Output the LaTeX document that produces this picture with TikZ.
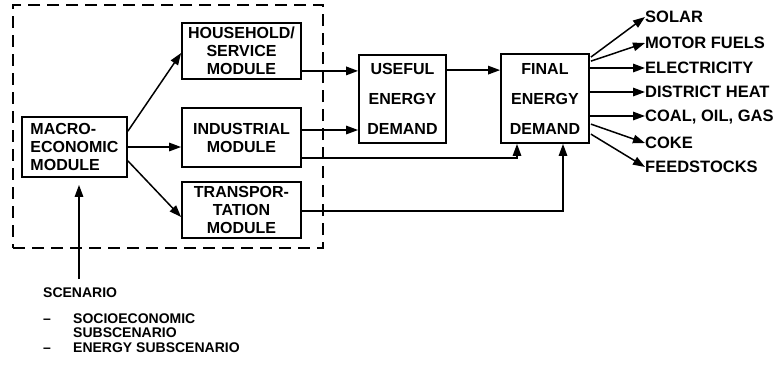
\documentclass[tikz,border=0pt]{standalone}
\usepackage{fontspec}
\setmainfont{Liberation Sans}
\usetikzlibrary{arrows.meta,calc}
\begin{document}
\begin{tikzpicture}[x=1pt,y=-1pt,
 box/.style={draw,line width=1.8pt,inner sep=0pt,font=\bfseries\fontsize{16}{18}\selectfont,align=center},
 arr/.style={line width=1.5pt,-{Triangle[length=12pt,width=8.5pt]}},
 lab/.style={anchor=west,inner sep=0pt,font=\bfseries\fontsize{16.5}{18}\selectfont,text height=11.8pt,text depth=0pt},
 sc/.style={anchor=base west,inner sep=0pt,font=\bfseries\fontsize{14}{16}\selectfont}]
\useasboundingbox (0,0) rectangle (777,376);
% group
\node[draw,line width=1.8pt,dash pattern=on 12pt off 7pt,minimum width=310pt,minimum height=243pt,inner sep=0pt] (grp) at (168,126.5) {};
% boxes
\node[box,minimum width=105pt,minimum height=60pt,align=left] (macro) at (74.5,147) {MACRO-\\ECONOMIC\\MODULE};
\node[box,minimum width=119pt,minimum height=56pt] (house) at (241.5,51) {HOUSEHOLD/\\SERVICE\\MODULE};
\node[box,minimum width=119pt,minimum height=59pt] (indus) at (241.5,137.5) {INDUSTRIAL\\MODULE};
\node[box,minimum width=119pt,minimum height=56pt] (trans) at (241.5,210) {TRANSPOR-\\TATION\\MODULE};
\node[box,minimum width=87pt,minimum height=88pt] (useful) at (402.5,99) {USEFUL\\[12pt]ENERGY\\[12pt]DEMAND};
\node[box,minimum width=88pt,minimum height=89pt] (final) at (545,98.5) {FINAL\\[12pt]ENERGY\\[12pt]DEMAND};
% labels
\node[lab] (solar) at (645,17) {SOLAR};
\node[lab] (motor) at (645,43) {MOTOR FUELS};
\node[lab] (elec) at (645,68) {ELECTRICITY};
\node[lab] (dh) at (645,92) {DISTRICT HEAT};
\node[lab] (coal) at (645,116) {COAL, OIL, GAS};
\node[lab] (coke) at (645,143) {COKE};
\node[lab] (feed) at (645,167) {FEEDSTOCKS};
% scenario text
\node[sc] (scen) at (43,297) {SCENARIO};
\node[sc] (d1) at (43,323) {--};
\node[sc] (socio) at (73,323) {SOCIOECONOMIC};
\node[sc] (subsc) at (73,337) {SUBSCENARIO};
\node[sc] (d2) at (43,352) {--};
\node[sc] (ensub) at (73,352) {ENERGY SUBSCENARIO};
% coordinates
\coordinate (m1) at ($(macro.north east)+(0,15)$);
\coordinate (m3) at ($(macro.south east)+(0,-17)$);
\coordinate (h1) at ($(house.south east)+(0,-9)$);
\coordinate (i1) at ($(indus.east)+(0,-7.5)$);
\coordinate (i2) at ($(indus.south east)+(0,-10)$);
\coordinate (t1) at ($(trans.east)+(0,1)$);
\coordinate (u1) at ($(useful.north east)+(0,16)$);
\coordinate (s0) at (79,279);
% connectors
\draw[arr] (m1) -- ($(house.west)+(0,2)$);
\draw[arr] (macro.east) -- (macro.east -| indus.west);
\draw[arr] (m3) -- ($(trans.west)+(0,7)$);
\draw[arr] (h1) -- (h1 -| useful.west);
\draw[arr] (i1) -- (i1 -| useful.west);
\draw[arr] (u1) -- (u1 -| final.west);
\draw[arr] (i2) -| ($(final.south)+(-28,0)$);
\draw[arr] (t1) -| ($(final.south)+(18,0)$);
\draw[arr] (s0) -- ($(macro.south)+(4.5,7)$);
% outputs
\draw[arr] ($(final.north east)+(1,4)$) -- (solar.west);
\draw[arr] ($(final.north east)+(1,8)$) -- (motor.west);
\draw[arr] (final.east |- elec.west) -- (elec.west);
\draw[arr] (final.east |- dh.west) -- (dh.west);
\draw[arr] (final.east |- coal.west) -- (coal.west);
\draw[arr] ($(final.north east)+(1,71)$) -- (coke.west);
\draw[arr] ($(final.north east)+(1,81)$) -- (feed.west);
\end{tikzpicture}
\end{document}
